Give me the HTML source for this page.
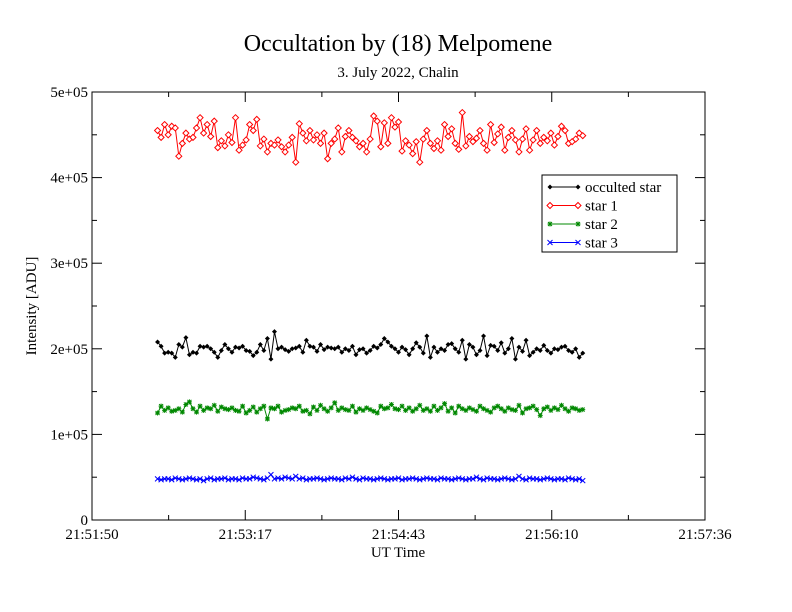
<!DOCTYPE html>
<html><head><meta charset="utf-8"><style>
html,body{margin:0;padding:0;background:#fff}
svg{display:block;font-family:"Liberation Serif",serif}
</style></head><body>
<svg id="chart" width="792" height="612" viewBox="0 0 792 612">
<rect width="792" height="612" fill="#fff"/>
<text x="398" y="51" font-size="24" text-anchor="middle">Occultation by (18) Melpomene</text>
<text x="398" y="77" font-size="15" text-anchor="middle">3. July 2022, Chalin</text>
<rect x="92" y="92" width="613" height="428" fill="none" stroke="#000" stroke-width="1"/>
<g id="axes"></g>
<g id="series"></g>
<text x="0" y="0" font-size="15" text-anchor="middle" transform="translate(36,306) rotate(-90)">Intensity [ADU]</text>
<text x="398" y="557" font-size="15" text-anchor="middle">UT Time</text>
<g>
<rect x="542" y="175" width="135" height="77" fill="#fff" stroke="#000"/>
<g id="legend-items"></g>
</g>
</svg>
<script>
const xTickLabels=["21:51:50","21:53:17","21:54:43","21:56:10","21:57:36"];
const yTickLabels=["0","1e+05","2e+05","3e+05","4e+05","5e+05"];
const seriesNames=["occulted star","star 1","star 2","star 3"];
const startSec=37, stepSec=2;
const occulted=[208,203,195,196,195,190,205,202,213,193,196,195,203,202,203,200,196,190,198,205,200,196,202,201,203,198,197,192,196,205,198,212,188,220,200,202,199,197,200,201,203,196,210,203,202,197,205,199,202,201,200,202,196,200,198,203,193,199,200,195,198,203,201,205,212,208,203,200,196,202,199,193,200,207,202,195,215,190,202,196,200,198,205,206,200,196,210,188,205,202,193,198,215,192,204,203,198,207,195,200,212,188,202,197,210,192,196,200,198,204,198,195,200,199,202,203,198,196,200,190,195];
const star1=[455,447,462,450,460,458,425,440,452,445,447,458,470,452,462,448,466,435,443,437,450,441,470,432,438,444,462,455,468,437,445,430,440,438,444,436,430,438,447,418,463,452,443,455,444,450,440,452,422,440,445,458,430,448,455,447,443,436,440,430,445,472,466,436,464,440,470,459,465,431,443,438,428,442,418,445,455,440,434,443,432,462,448,457,440,433,476,437,448,442,446,455,440,432,462,441,451,459,432,447,455,444,430,445,457,432,444,455,440,447,443,452,438,448,460,455,440,442,445,452,449];
const star2=[125,133,128,131,127,128,130,126,135,138,130,126,133,128,131,130,134,127,132,130,129,131,128,127,133,125,128,132,126,130,133,118,131,130,133,126,128,129,131,130,133,127,128,124,132,128,134,130,127,131,137,128,131,129,128,133,126,130,128,131,129,127,125,133,130,131,135,130,129,133,128,131,127,130,134,128,130,127,133,128,131,136,127,131,125,133,130,128,131,129,127,133,130,128,126,131,133,130,127,131,129,128,134,125,130,131,133,129,122,130,132,128,131,129,134,130,127,131,130,128,129];
const star3=[48,47,48,48,47,49,48,47,48,49,48,47,48,46,48,49,47,48,48,49,47,48,48,47,49,48,48,50,49,48,47,49,53,48,49,48,50,49,48,51,48,49,47,48,48,49,48,47,48,49,48,48,47,49,48,50,48,47,49,48,48,47,48,49,48,47,48,48,49,47,48,48,49,48,47,48,49,48,48,47,49,48,48,47,48,49,48,47,48,48,50,48,47,49,48,48,47,48,49,48,47,48,51,48,47,49,48,48,47,48,49,48,47,48,48,47,49,48,47,48,46];
const NS="http://www.w3.org/2000/svg";
const X0=92,X1=705,Y0=520,Y1=92,T0=0,T1=346,V0=0,V1=500;
function xs(t){return X0+(t-T0)/(T1-T0)*(X1-X0);}
function ys(v){return Y0-(v-V0)/(V1-V0)*(Y0-Y1);}
function mk(tag,attrs,parent){const e=document.createElementNS(NS,tag);for(const k in attrs)e.setAttribute(k,attrs[k]);parent.appendChild(e);return e;}
const axes=document.getElementById('axes');
xTickLabels.forEach((lab,i)=>{
  const x=xs(i*(T1-T0)/(xTickLabels.length-1));
  const l1=mk('line',{x1:x,y1:Y0,x2:x,y2:Y0-10,stroke:'#000'},axes);
  
  
  const l2=mk('line',{x1:x,y1:Y1,x2:x,y2:Y1+10,stroke:'#000'},axes);
  
  
  if(i<xTickLabels.length-1){const xm=xs((i+0.5)*(T1-T0)/(xTickLabels.length-1));
    const m1=mk('line',{x1:xm,y1:Y0,x2:xm,y2:Y0-5,stroke:'#000'},axes);
    
    
    const m2=mk('line',{x1:xm,y1:Y1,x2:xm,y2:Y1+5,stroke:'#000'},axes);
    
    }
  const t=mk('text',{x:x,y:539,'font-size':15,'text-anchor':'middle'},axes);t.textContent=lab;
  
  
});
yTickLabels.forEach((lab,i)=>{
  const v=i*(V1-V0)/(yTickLabels.length-1);const y=ys(v);
  const l1=mk('line',{x1:X0,y1:y,x2:X0+10,y2:y,stroke:'#000'},axes);
  
  
  const l2=mk('line',{x1:X1,y1:y,x2:X1-10,y2:y,stroke:'#000'},axes);
  
  
  if(i<yTickLabels.length-1){const ym=ys(v+50);
    const m1=mk('line',{x1:X0,y1:ym,x2:X0+5,y2:ym,stroke:'#000'},axes);
    
    
    const m2=mk('line',{x1:X1,y1:ym,x2:X1-5,y2:ym,stroke:'#000'},axes);
    
    }
  const t=mk('text',{x:X0-4,y:y+5,'font-size':15,'text-anchor':'end'},axes);t.textContent=lab;
  
  
});
function marker(type,x,y,color,g){
  if(type==='dot'){return mk('path',{d:`M${x-2.5},${y}L${x},${y-2.5}L${x+2.5},${y}L${x},${y+2.5}Z`,fill:color},g);}
  if(type==='diamond'){return mk('path',{d:`M${x-3},${y}L${x},${y-3}L${x+3},${y}L${x},${y+3}Z`,fill:'#fff',stroke:color},g);}
  if(type==='plus'){return mk('path',{d:`M${x-2.5},${y}H${x+2.5}M${x},${y-2.5}V${y+2.5}M${x-2},${y-2}L${x+2},${y+2}M${x-2},${y+2}L${x+2},${y-2}`,stroke:color,fill:'none'},g);}
  return mk('path',{d:`M${x-2.5},${y-2.5}L${x+2.5},${y+2.5}M${x-2.5},${y+2.5}L${x+2.5},${y-2.5}`,stroke:color,fill:'none'},g);
}
const sg=document.getElementById('series');
const specs=[[occulted,'#000','dot','series-occulted-star'],[star1,'#f00','diamond','series-star-1'],[star2,'#080','plus','series-star-2'],[star3,'#00f','cross','series-star-3']];
specs.forEach(([data,color,mt,name])=>{
  const g=mk('g',{},sg);
  
  
  const pts=data.map((v,i)=>[xs(startSec+i*stepSec),ys(v)]);
  const pl=mk('polyline',{points:pts.map(p=>p.join(',')).join(' '),fill:'none',stroke:color,'stroke-width':1},g);
  
  
  pts.forEach(p=>{const m=marker(mt,p[0],p[1],color,g);
    
    });
});
const lg=document.getElementById('legend-items');
specs.forEach(([data,color,mt,name],i)=>{
  const y=187+i*18.5;
  const g=mk('g',{},lg);
  
  
  mk('line',{x1:550,y1:y,x2:578,y2:y,stroke:color},g);
  marker(mt,550,y,color,g);marker(mt,578,y,color,g);
  const t=mk('text',{x:585,y:y+5,'font-size':15},g);t.textContent=seriesNames[i];
});
</script>
</body></html>
